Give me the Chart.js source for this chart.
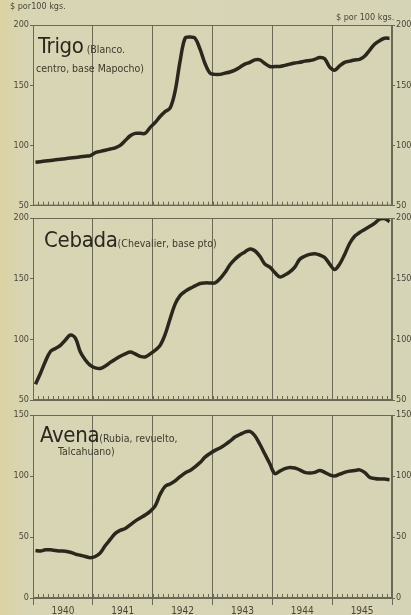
<!DOCTYPE html>
<html>
<head>
<meta charset="utf-8">
<script src="https://cdn.jsdelivr.net/npm/chart.js@4.4.1/dist/chart.umd.min.js"></script>
<style>
  body { margin: 0; width: 411px; height: 615px; overflow: hidden; position: relative;
         background: linear-gradient(to right, #dcd3a2 0px, #d8d5b4 26px, #d6d4b6 100%);
         font-family: "DejaVu Sans Condensed", "DejaVu Sans", sans-serif; color: #2e2c22; }
  .cv { position: absolute; left: 0; width: 411px; }
  .t { position: absolute; white-space: nowrap; }
  .big { font-size: 22px; letter-spacing: -0.3px; color: #2a281e; }
  .sm { font-size: 10.5px; color: #3c3a2e; }
  .unit { font-size: 9px; color: #4a4838; }
</style>
</head>
<body>
<div class="cv" style="top:0;height:212px"><canvas id="c1"></canvas></div>
<div class="cv" style="top:208px;height:200px"><canvas id="c2"></canvas></div>
<div class="cv" style="top:404px;height:211px"><canvas id="c3"></canvas></div>

<div class="t unit" style="left:10px;top:1px">$ por100 kgs.</div>
<div class="t unit" style="left:336px;top:12px">$ por 100 kgs.</div>

<div class="t" style="left:38px;top:33px"><span class="big">Trigo</span><span class="sm"> (Blanco.</span></div>
<div class="t sm" style="left:36px;top:62px">centro, base Mapocho)</div>

<div class="t" style="left:44px;top:227px"><span class="big">Cebada</span><span class="sm">(Chevalier, base pto)</span></div>

<div class="t" style="left:40px;top:422px"><span class="big">Avena</span><span class="sm">(Rubia, revuelto,</span></div>
<div class="t sm" style="left:58px;top:445px">Talcahuano)</div>

<script>
// monthly prices, Jan 1940 - Dec 1945
const years = ['1940', '1941', '1942', '1943', '1944', '1945'];
const trigo = [86, 86.5, 87, 87.5, 88, 88.5, 89, 89.5, 90, 90.5, 91, 91.5,
  94, 95, 96, 97, 98, 100, 104, 108, 110, 110, 110, 115,
  119, 124, 128, 131, 145, 170, 189, 190, 189, 180, 168, 160,
  159, 159, 160, 161, 162.5, 165, 167.5, 169, 171, 171, 168, 165.5,
  165.5, 165.5, 166.5, 167.5, 168.5, 169, 170, 170.5, 171.5, 173, 172, 165,
  162.5, 166, 169, 170, 171, 171.5, 174, 179, 184, 187, 189, 189];
const cebada = [63, 72, 82, 90, 92.5, 95, 99.5, 103.5, 101, 89.5, 83, 78.5,
  76.5, 76, 78, 81, 83.5, 86, 88, 89.5, 88, 86, 85.5, 88,
  91, 95, 104, 117, 129, 136, 139.5, 142, 144, 146, 146.5, 146.5,
  146.5, 150, 155, 161.5, 166, 169.5, 172, 174.5, 173, 168.5, 162, 159.5,
  155, 151.5, 153, 155.5, 159.5, 166, 168.5, 170, 170.5, 169.5, 167.5, 162,
  157.5, 162, 170, 179, 185, 188, 190.5, 193, 195.5, 199, 199.5, 197];
const avena = [39, 38.5, 39.5, 39.5, 39, 38.5, 38.3, 37.5, 36, 35, 34, 33,
  34, 37, 43, 48, 53, 55.5, 57, 60, 63, 65.5, 68, 71,
  75.5, 85, 91.5, 93.5, 96, 99.5, 102.5, 104.5, 107.5, 111, 115.5, 118.5,
  121, 123, 125.5, 128.5, 132, 134, 136, 136.5, 133, 126, 118, 110,
  102, 104, 106, 107, 106.5, 105, 103, 102.5, 103, 104.5, 103, 101,
  100, 101.5, 103, 104, 104.5, 105, 103, 99, 98, 97.5, 97.5, 97];

const ink = '#2a271c';
const gridInk = '#6a6956';

// frame + small month ticks along the bottom edge
const framePlugin = {
  id: 'frame',
  afterDraw(chart) {
    const { ctx, chartArea: a, scales } = chart;
    ctx.save();
    ctx.strokeStyle = gridInk;
    ctx.lineWidth = 1;
    ctx.strokeRect(a.left + 0.5, a.top + 0.5, a.right - a.left - 1, a.bottom - a.top - 1);
    ctx.beginPath();
    for (let m = 1; m < 72; m++) {
      const x = Math.round(scales.x.getPixelForValue(m)) + 0.5;
      ctx.moveTo(x, a.bottom);
      ctx.lineTo(x, a.bottom - 4);
    }
    ctx.stroke();
    ctx.restore();
  }
};

function makePanel(id, values, yMin, yMax, padTop, bottomH, showYears) {
  const pts = values.map((v, i) => ({ x: i + 0.5, y: v }));
  const yAxis = (pos, w) => ({
    type: 'linear', position: pos, min: yMin, max: yMax,
    ticks: { stepSize: 50, color: '#4a4838', font: { family: 'DejaVu Sans Condensed', size: 9 }, padding: 1 },
    grid: { drawOnChartArea: false, tickLength: 3, color: gridInk },
    border: { display: true, color: gridInk },
    afterFit(s) { s.width = w; }
  });
  new Chart(document.getElementById(id), {
    type: 'line',
    data: { datasets: [{ data: pts, borderColor: ink, borderWidth: 3.5, pointRadius: 0, tension: 0.35, fill: false }] },
    options: {
      responsive: true, maintainAspectRatio: false, animation: false,
      layout: { padding: { top: padTop, left: 0, right: 0, bottom: 0 } },
      plugins: { legend: { display: false }, tooltip: { enabled: false } },
      scales: {
        x: {
          type: 'linear', min: 0, max: 72,
          afterBuildTicks(s) { s.ticks = []; for (let v = 0; v <= 72; v += 6) s.ticks.push({ value: v }); },
          ticks: {
            display: showYears, autoSkip: false, maxRotation: 0, padding: 0,
            color: '#4a4838', font: { family: 'DejaVu Sans Condensed', size: 10 },
            callback: v => (v % 12 === 6 ? years[(v - 6) / 12] : '')
          },
          grid: {
            color: c => (c.tick && c.tick.value % 12 === 0 ? gridInk : 'transparent'),
            lineWidth: 1, drawTicks: showYears, tickLength: 7
          },
          border: { display: true, color: gridInk },
          afterFit(s) { s.height = bottomH; }
        },
        y: yAxis('left', 33),
        y2: yAxis('right', 19)
      }
    },
    plugins: [framePlugin]
  });
}

makePanel('c1', trigo, 50, 200, 25, 5, false);
makePanel('c2', cebada, 50, 200, 10, 8, false);
makePanel('c3', avena, 0, 150, 11, 17, true);
</script>
</body>
</html>
